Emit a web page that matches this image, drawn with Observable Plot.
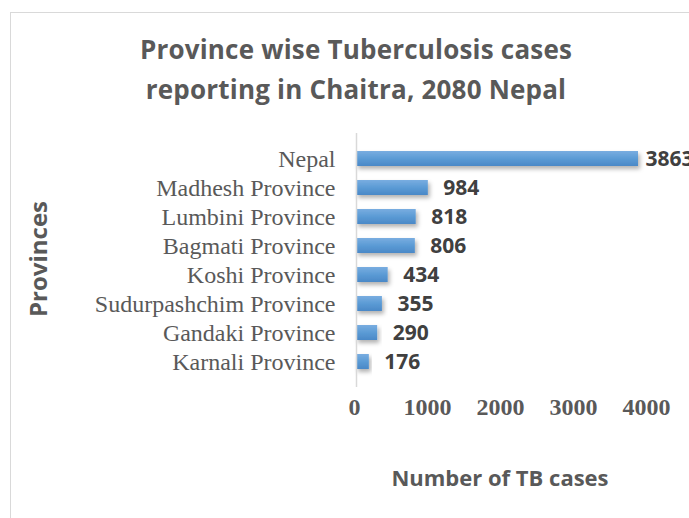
<!DOCTYPE html>
<html><head><meta charset="utf-8">
<script src="https://cdn.jsdelivr.net/npm/d3@7"></script>
<script src="https://cdn.jsdelivr.net/npm/@observablehq/plot@0.6"></script>
<style>
html,body{margin:0;padding:0;background:#fff;}
#wrap{position:relative;width:689px;height:518px;overflow:hidden;}
#frame{position:absolute;left:10px;top:12px;width:700px;height:520px;border-left:1.5px solid #d9d9d9;border-top:1.5px solid #d9d9d9;}
.t{position:absolute;font-family:"Open Sans",sans-serif;font-weight:bold;color:#595959;white-space:nowrap;}
#title{left:0;width:712px;top:29px;text-align:center;font-size:26px;line-height:40px;letter-spacing:0.2px;}
#xlab{left:340px;width:320px;top:462px;text-align:center;font-size:22px;}
#ylab{left:37px;top:259px;font-size:24px;transform:translate(-50%,-50%) rotate(-90deg);}
svg{position:absolute;left:0;top:0;}
</style></head>
<body><div id="wrap"><div id="frame"></div>
<div class="t" id="title">Province wise Tuberculosis cases<br>reporting in Chaitra, 2080 Nepal</div>
<div class="t" id="ylab">Provinces</div>
<div class="t" id="xlab">Number of TB cases</div>
</div>
<script>
const provinces = ["Nepal","Madhesh Province","Lumbini Province","Bagmati Province","Koshi Province","Sudurpashchim Province","Gandaki Province","Karnali Province"];
const cases = [3863,984,818,806,434,355,290,176];
const xTicks = [0,1000,2000,3000,4000];

const data = provinces.map((p,i)=>({province:p, value:cases[i]}));

const chart = Plot.plot({
  width: 689, height: 518,
  marginLeft: 356, marginRight: 41, marginTop: 133, marginBottom: 131,
  x: {domain:[0,4000], ticks: xTicks},
  y: {domain: provinces, padding: 0.5},
  marks: [
    Plot.barX(data, {x:"value", y:"province", fill:"url(#barGrad)"}),
    Plot.ruleX([0], {stroke:"#d9d9d9", strokeWidth:1.5}),
    Plot.axisY({tickSize:0, tickPadding:21, fontSize:24, fontFamily:"Liberation Serif", fill:"#595959", label:null}),
    Plot.axisX({ticks:xTicks, tickFormat:d3.format("d"), tickSize:0, tickPadding:10, fontSize:24, fontWeight:"bold", fontFamily:"Liberation Serif", fill:"#595959", label:null, dx:-2}),
    Plot.text(data.filter(d=>d.province!=="Nepal"), {x:"value", y:"province", text:d=>String(d.value), dx:15, textAnchor:"start", fontSize:21, fontWeight:"bold", fontFamily:"Open Sans", fill:"#404040"}),
    Plot.text(data.filter(d=>d.province==="Nepal"), {x:"value", y:"province", text:d=>String(d.value), dx:7, textAnchor:"start", fontSize:21, fontWeight:"bold", fontFamily:"Open Sans", fill:"#404040"})
  ]
});
const ns="http://www.w3.org/2000/svg";
const defs=document.createElementNS(ns,"defs");
defs.innerHTML=`<linearGradient id="barGrad" x1="0" y1="0" x2="0" y2="1">
<stop offset="0" stop-color="#79ade0"/><stop offset="0.5" stop-color="#5b9bd5"/><stop offset="1" stop-color="#4a88c7"/></linearGradient>
<filter id="shad" x="-10%" y="-30%" width="130%" height="200%"><feDropShadow dx="2" dy="3" stdDeviation="2" flood-color="#000" flood-opacity="0.3"/></filter>`;
chart.insertBefore(defs, chart.firstChild);
chart.querySelectorAll("g[aria-label='bar'] rect").forEach(r=>r.setAttribute("filter","url(#shad)"));
chart.style.background="transparent";
chart.style.overflow="visible";
document.getElementById("wrap").appendChild(chart);
</script>
</body></html>
